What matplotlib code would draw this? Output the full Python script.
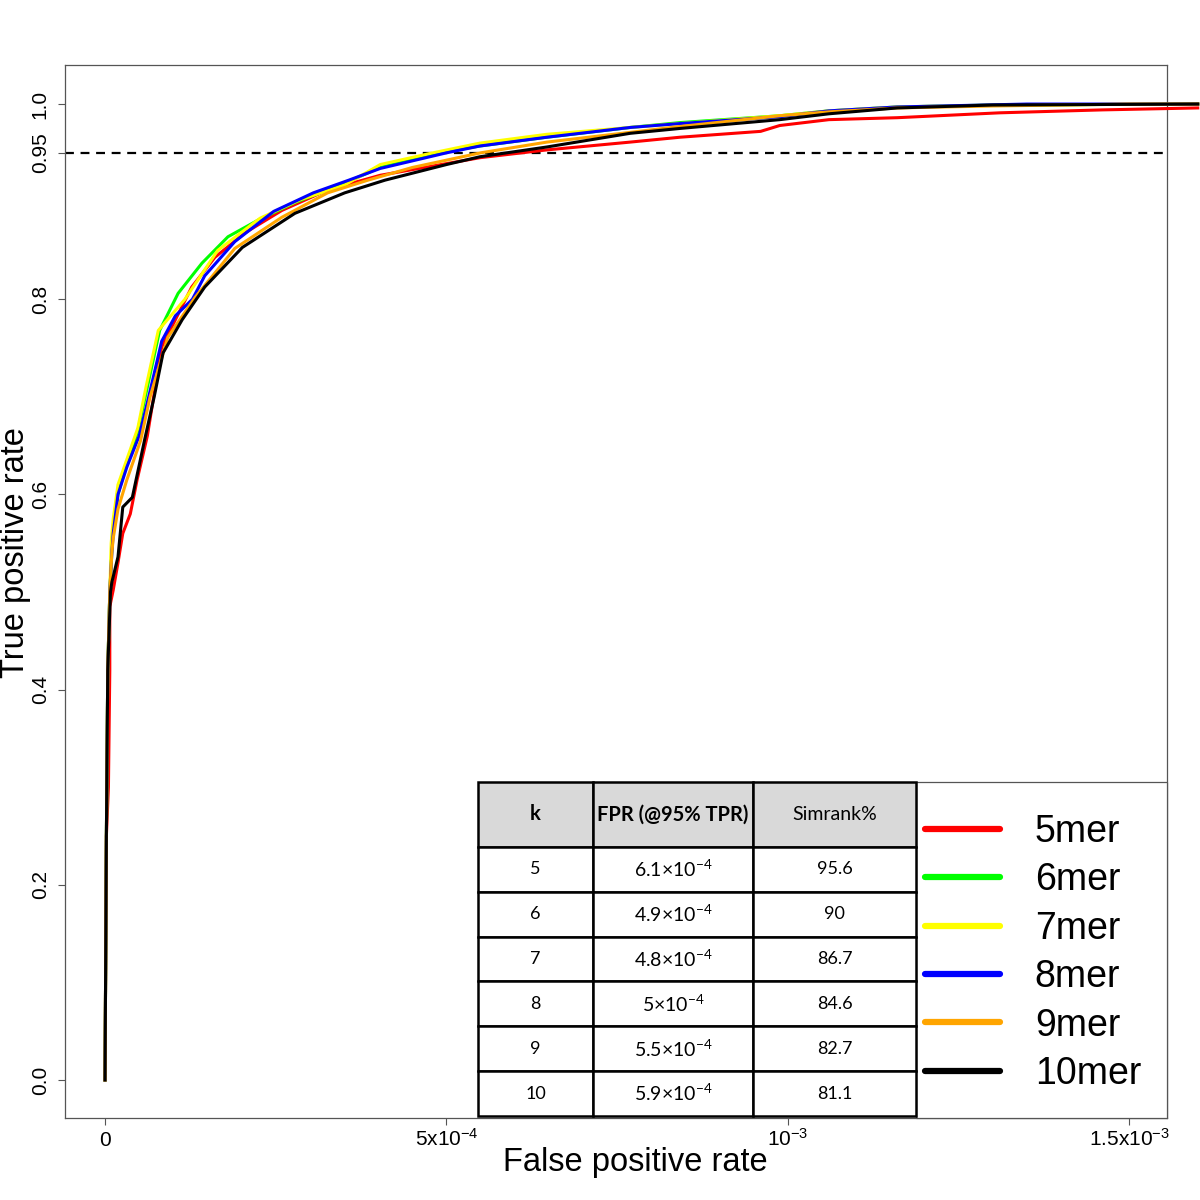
import numpy as np
import matplotlib
matplotlib.use("Agg")
import matplotlib.pyplot as plt
from matplotlib.lines import Line2D
from matplotlib.patches import Rectangle

plt.rcParams['font.family'] = ['Liberation Sans', 'DejaVu Sans']

# ROC curves, FPR in units of 1e-4
fpr_5 = [0, 0.02, 0.05, 0.07, 0.07, 0.12, 0.19, 0.26, 0.37, 0.47, 0.62, 0.83, 1.27, 1.61, 2.05, 2.59, 3.26,
         4.03, 5.49, 6.47, 7.69, 8.42, 9.6, 9.88, 10.6, 11.6, 13.1, 14.6, 16.0]
tpr_5 = [0, 0.25, 0.30, 0.42, 0.485, 0.502, 0.53, 0.56, 0.58, 0.615, 0.66, 0.751, 0.8125, 0.843, 0.868, 0.891, 0.912,
         0.927, 0.945, 0.953, 0.961, 0.966, 0.972, 0.978, 0.984, 0.986, 0.991, 0.994, 0.996]

fpr_6 = [0, 0.02, 0.04, 0.07, 0.10, 0.13, 0.19, 0.29, 0.48, 0.62, 0.80, 1.07, 1.42, 1.80, 2.24, 2.78, 3.51,
         4.03, 4.9, 5.49, 6.47, 7.69, 8.42, 9.88, 10.6, 11.6, 13.0, 16.0]
tpr_6 = [0, 0.25, 0.42, 0.50, 0.545, 0.57, 0.60, 0.625, 0.665, 0.71, 0.768, 0.806, 0.837, 0.864, 0.881, 0.899, 0.919,
         0.935, 0.950, 0.957, 0.966, 0.976, 0.981, 0.988, 0.993, 0.997, 0.999, 1.0]

fpr_7 = [0, 0.02, 0.04, 0.07, 0.09, 0.12, 0.19, 0.30, 0.48, 0.60, 0.78, 1.17, 1.65, 2.27, 2.86, 3.51, 4.03,
         4.8, 5.49, 6.47, 7.69, 8.42, 9.88, 10.6, 11.6, 13.0, 16.0]
tpr_7 = [0, 0.25, 0.42, 0.50, 0.55, 0.575, 0.61, 0.632, 0.668, 0.71, 0.768, 0.80, 0.85, 0.883, 0.902, 0.917, 0.938,
         0.950, 0.960, 0.969, 0.976, 0.980, 0.988, 0.993, 0.997, 0.999, 1.0]

fpr_8 = [0, 0.02, 0.04, 0.07, 0.10, 0.12, 0.19, 0.32, 0.50, 0.64, 0.83, 1.03, 1.28, 1.46, 1.90, 2.47, 3.05,
         3.57, 4.03, 5.0, 5.49, 6.47, 7.69, 8.42, 9.88, 10.6, 11.6, 13.5, 16.0]
tpr_8 = [0, 0.25, 0.42, 0.50, 0.54, 0.56, 0.60, 0.628, 0.66, 0.70, 0.757, 0.783, 0.80, 0.824, 0.859, 0.89, 0.909,
         0.922, 0.934, 0.950, 0.957, 0.966, 0.976, 0.980, 0.987, 0.993, 0.997, 1.0, 1.0]

fpr_9 = [0, 0.02, 0.04, 0.07, 0.10, 0.12, 0.19, 0.32, 0.52, 0.66, 0.92, 1.32, 1.90, 2.59, 3.26, 3.85, 4.5,
         5.5, 6.47, 7.69, 8.42, 9.88, 10.6, 11.6, 13.0, 15.0, 16.0]
tpr_9 = [0, 0.25, 0.42, 0.50, 0.54, 0.555, 0.585, 0.615, 0.655, 0.70, 0.761, 0.802, 0.852, 0.884, 0.909, 0.922, 0.935,
         0.950, 0.961, 0.971, 0.977, 0.988, 0.992, 0.996, 0.998, 1.0, 1.0]

fpr_10 = [0, 0.02, 0.04, 0.08, 0.10, 0.19, 0.26, 0.40, 0.58, 0.72, 0.85, 1.13, 1.46, 2.01, 2.78, 3.51, 4.10,
          5.0, 5.49, 6.47, 7.69, 8.42, 9.88, 10.6, 11.6, 13.0, 16.0]
tpr_10 = [0, 0.25, 0.42, 0.50, 0.51, 0.536, 0.587, 0.597, 0.656, 0.70, 0.745, 0.779, 0.8125, 0.853, 0.888, 0.909, 0.922,
          0.938, 0.946, 0.956, 0.970, 0.975, 0.984, 0.990, 0.996, 0.999, 1.0]

series_names = ['5mer', '6mer', '7mer', '8mer', '9mer', '10mer']
series_colors = ['#FF0000', '#00FF00', '#FFFF00', '#0000FF', '#FFA500', '#000000']
curves = [(fpr_5, tpr_5), (fpr_6, tpr_6), (fpr_7, tpr_7), (fpr_8, tpr_8), (fpr_9, tpr_9), (fpr_10, tpr_10)]

# table
col_labels = ['k', 'FPR (@95% TPR)', 'Simrank%']
k_vals = [5, 6, 7, 8, 9, 10]
fpr_mant = ['6.1', '4.9', '4.8', '5', '5.5', '5.9']
simrank = ['95.6', '90', '86.7', '84.6', '82.7', '81.1']

xticks = [0, 5, 10, 15]
xtick_labels = ['0', r'$\mathdefault{5x10^{-4}}$', r'$\mathdefault{10^{-3}}$', r'$\mathdefault{1.5x10^{-3}}$']
yticks = [0.0, 0.2, 0.4, 0.6, 0.8, 0.95, 1.0]
ytick_labels = ['0.0', '0.2', '0.4', '0.6', '0.8', '0.95', '1.0']

W = 1200.0
fig = plt.figure(figsize=(12, 12), dpi=100)
ax = fig.add_axes([65 / W, 82 / W, 1102 / W, 1053 / W])

for (fx, ty), col in zip(curves, series_colors):
    ax.plot(np.array(fx), ty, color=col, lw=2.2, clip_on=False, zorder=3)

ax.axhline(0.95, color='black', lw=1.6, ls=(0, (4, 3)), zorder=2)

ax.set_xlim(-0.586, 15.55)
ax.set_ylim(-0.039, 1.04)
for sp in ax.spines.values():
    sp.set_color('#555555')
    sp.set_linewidth(0.9)

ax.set_xticks(xticks, xtick_labels)
ax.set_yticks(yticks, ytick_labels)
ax.tick_params(axis='both', direction='out', length=5, width=0.8, color='#555555', labelsize=15)
ax.tick_params(axis='x', pad=15)
ax.tick_params(axis='y', pad=6, labelrotation=90)
for lab in ax.get_xticklabels():
    lab.set_verticalalignment('baseline')
for lab in ax.get_yticklabels():
    lab.set_verticalalignment('center')

fig.text(635 / W, 1 - 1163 / W, 'False positive rate', fontsize=23.5, ha='center', va='center')
fig.text(16 / W, 1 - 553 / W, 'True positive rate', fontsize=23.5, ha='center', va='center', rotation=90)

# table in lower right
ax_w, ax_h = 1102.0, 1053.0
rows = [[str(k), r'$\mathdefault{%s×10^{-4}}$' % m, s] for k, m, s in zip(k_vals, fpr_mant, simrank)]
tbl = ax.table(cellText=rows, colLabels=col_labels, cellLoc='center',
               bbox=[(478 - 65) / ax_w, (1118 - 1116) / ax_h, (916 - 478) / ax_w, (1116 - 782) / ax_h],
               zorder=5)
tbl.auto_set_font_size(False)
tbl.set_fontsize(13)
col_w = [115, 160, 163]
for (r, c), cell in tbl.get_celld().items():
    cell.set_width(col_w[c])
    cell.set_height(65 if r == 0 else 45)
    cell.set_linewidth(1.8)
    cell.set_edgecolor('black')
    txt = cell.get_text()
    txt.set_fontfamily(['Lato', 'DejaVu Sans'])
    if r == 0:
        cell.set_facecolor('#D9D9D9')
        if c < 2:
            txt.set_fontweight('bold')
            txt.set_fontsize(14.5)
        else:
            txt.set_fontsize(14)
    elif c == 1:
        txt.set_fontsize(14)

# legend box
ax.add_patch(Rectangle(((916 - 65) / ax_w, 0), 1 - (916 - 65) / ax_w, (1118 - 782) / ax_h,
                       transform=ax.transAxes, facecolor='white', edgecolor='#555555', lw=0.9,
                       zorder=4, clip_on=False))
handles = [Line2D([], [], color=c, lw=4.5, solid_capstyle='round') for c in series_colors]
leg = ax.legend(handles, series_names, loc='center left', bbox_to_anchor=(925 / W, 1 - 953 / W),
                bbox_transform=fig.transFigure, frameon=False, borderpad=0, borderaxespad=0,
                handlelength=2.0, handletextpad=0.93, labelspacing=0.33, fontsize=27)
leg.set_zorder(6)

fig.savefig('out.png', dpi=100)
